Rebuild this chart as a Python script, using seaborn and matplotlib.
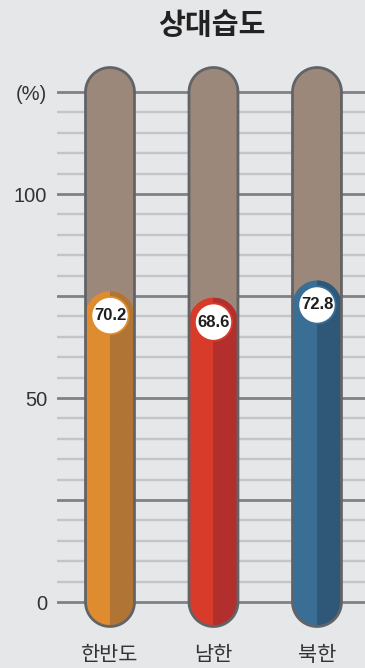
import numpy as np
import pandas as pd
import matplotlib
matplotlib.use("Agg")
import matplotlib.pyplot as plt
from matplotlib.patches import PathPatch, Rectangle
from matplotlib.path import Path
import seaborn as sns

# Relative humidity by region (%)
regions = ["한반도", "남한", "북한"]
humidity = [70.2, 68.6, 72.8]
light_colors = ["#df8b2f", "#d93b2a", "#3b6e95"]
dark_colors = ["#b07534", "#b22f2e", "#2f5778"]
scale_max = 125
ytick_values = [0, 50, 100, 125]
ytick_labels = ["0", "50", "100", "(%)"]

BG = "#e6e7e9"
TUBE = "#9b887b"
EDGE = "#626367"

sns.set_style("white", {"axes.facecolor": BG, "figure.facecolor": BG})
plt.rcParams["font.family"] = ["Liberation Sans", "Noto Sans CJK KR", "DejaVu Sans"]

W, H = 365, 668
fig = plt.figure(figsize=(W / 100, H / 100), dpi=100)
ax_left, ax_right, ax_top, ax_bottom = 57, 365, 60, 632
ax = fig.add_axes([ax_left / W, 1 - ax_bottom / H, (ax_right - ax_left) / W, (ax_bottom - ax_top) / H])

df = pd.DataFrame({"region": regions, "humidity": humidity})
sns.barplot(data=df, x="region", y="humidity", ax=ax, width=0.473, color=TUBE)

px_per_y = 4.08
ax.set_ylim(-(ax_bottom - 602) / px_per_y, scale_max + (92 - ax_top) / px_per_y)
ax.set_xlim(-0.512, 2.464)

# horizontal scale lines every 5 %, darker every 25 %
for v in range(0, scale_max + 1, 5):
    major = v % 25 == 0
    ax.axhline(v, color="#808185" if major else "#c4c5c8", lw=2.0 if major else 1.7, zorder=1)

fig.canvas.draw()
p0 = ax.transData.transform((0, 0))
p1 = ax.transData.transform((1, 1))
aspect = (p1[0] - p0[0]) / (p1[1] - p0[1])


def capsule(xc, rx, ry, y_low, y_high, n=48):
    """Closed path of a vertical capsule whose cap centres sit at y_low and y_high."""
    top = np.linspace(0, np.pi, n)
    bot = np.linspace(np.pi, 2 * np.pi, n)
    xs = np.concatenate([xc + rx * np.cos(top), xc + rx * np.cos(bot)])
    ys = np.concatenate([y_high + ry * np.sin(top), y_low + ry * np.sin(bot)])
    verts = np.column_stack([xs, ys])
    verts = np.vstack([verts, verts[:1]])
    codes = [Path.MOVETO] + [Path.LINETO] * (len(verts) - 2) + [Path.CLOSEPOLY]
    return Path(verts, codes)


bars = list(ax.patches)
for bar in bars:
    bar.remove()

for bar, val, lc, dc in zip(bars, humidity, light_colors, dark_colors):
    x0, w = bar.get_x(), bar.get_width()
    xc = x0 + w / 2
    r = w / 2
    ry = r * aspect
    tube_path = capsule(xc, r, ry, 0, scale_max)
    ax.add_patch(PathPatch(tube_path, facecolor=TUBE, edgecolor="none", zorder=3))
    # filled column with rounded head centred on the value
    fill = PathPatch(capsule(xc, r, ry, 0, val), facecolor=lc, edgecolor="none", zorder=4)
    ax.add_patch(fill)
    shade = Rectangle((xc, -ry), r, val + 2 * ry, facecolor=dc, edgecolor="none", zorder=5)
    ax.add_patch(shade)
    shade.set_clip_path(fill)
    ax.add_patch(PathPatch(tube_path, facecolor="none", edgecolor=EDGE, lw=2.0, zorder=6))

# value bubbles
sns.scatterplot(data=df, x="region", y="humidity", ax=ax, s=720, color="white",
                edgecolor=light_colors, linewidth=1.3, zorder=7, legend=False)
for i, val in enumerate(humidity):
    ax.text(i, val, f"{val:.1f}", ha="center", va="center", fontsize=12,
            fontweight="bold", color="#1e1e1e", zorder=8)

ax.set_yticks(ytick_values)
ax.set_yticklabels(ytick_labels)
ax.tick_params(axis="y", length=0, pad=7, labelsize=14.5, labelcolor="#333333")
ax.tick_params(axis="x", length=0, pad=10, labelsize=15, labelcolor="#333333")
ax.set_xlabel("")
ax.set_ylabel("")
for s in ax.spines.values():
    s.set_visible(False)

fig.text(212 / W, 1 - 25 / H, "상대습도", ha="center", va="center", fontsize=21,
         fontweight="heavy", color="#222222", family=["Noto Sans CJK KR"])

fig.savefig("out.png", dpi=100, facecolor=BG)
